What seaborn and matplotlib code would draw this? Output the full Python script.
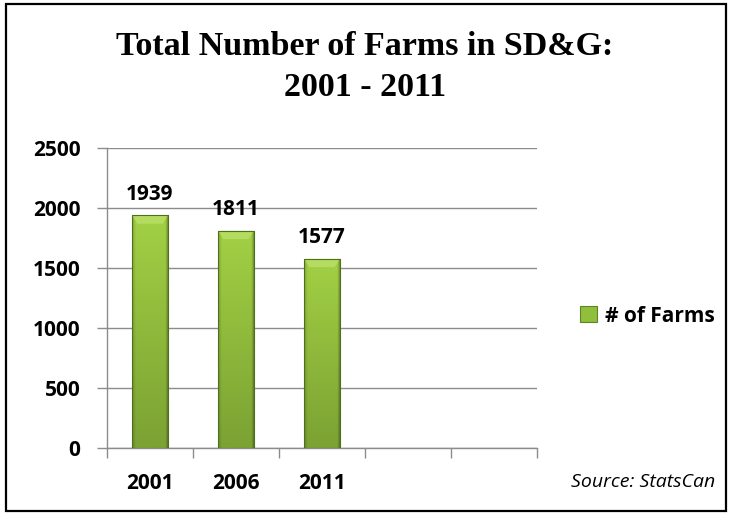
import numpy as np
import pandas as pd
import matplotlib
matplotlib.use("Agg")
import matplotlib.pyplot as plt
import seaborn as sns
from matplotlib.patches import Rectangle, Patch, Polygon
from matplotlib.colors import to_rgb

# Census counts of farms
years = ["2001", "2006", "2011"]
farms = [1939, 1811, 1577]
yticks = [0, 500, 1000, 1500, 2000, 2500]
series_name = "# of Farms"
source_note = "Source: StatsCan"
title_text = "Total Number of Farms in SD&G:\n2001 - 2011"

df = pd.DataFrame({"year": years, "farms": farms})

sns.set_theme(style="white")
plt.rcParams["font.family"] = ["Open Sans", "DejaVu Sans"]
plt.rcParams["text.color"] = "black"
plt.rcParams["xtick.labelcolor"] = "black"
plt.rcParams["ytick.labelcolor"] = "black"

W, H = 730, 514
fig = plt.figure(figsize=(W / 100, H / 100), dpi=100)
ax = fig.add_axes([107 / W, 1 - 448 / H, (537 - 107) / W, (448 - 148) / H])

grid_col = "#8c8c8c"
bar_base = "#8fbf3c"
sns.barplot(data=df, x="year", y="farms", order=years, color=bar_base,
            width=0.42, saturation=1, edgecolor="none", ax=ax, zorder=3)

# shaded fill for each bar: bright top fading to olive base, darker rims
top_c = np.array(to_rgb("#a2d044"))
bot_c = np.array(to_rgb("#7ba233"))
nx, ny = 80, 200
u = np.linspace(0, 1, nx)
v = np.linspace(0, 1, ny)[:, None]
rows = bot_c[None, :] * (1 - v) + top_c[None, :] * v          # (ny, 3)
rim = np.ones(nx)
rim -= 0.18 * np.clip(1 - u / 0.10, 0, 1)
rim -= 0.40 * np.clip(1 - (1 - u) / 0.09, 0, 1)
for p in list(ax.patches):
    x0, y0 = p.get_x(), p.get_y()
    w, h = p.get_width(), p.get_height()
    img = rows[:, None, :] * rim[None, :, None]
    im = ax.imshow(np.clip(img, 0, 1), extent=[x0, x0 + w, y0, y0 + h],
                   origin="lower", aspect="auto", zorder=4, interpolation="bilinear")
    im.set_clip_path(p)
    # bevelled cap
    cap = 70
    ax.add_patch(Polygon([(x0, y0 + h), (x0 + w, y0 + h),
                          (x0 + w * 0.85, y0 + h - cap), (x0 + w * 0.15, y0 + h - cap)],
                         closed=True, facecolor="#c4e87a", edgecolor="none",
                         alpha=0.55, zorder=5))
    ax.add_patch(Rectangle((x0, y0), w, h, fill=False, edgecolor="#506f1e",
                           lw=0.8, zorder=7))
    p.set_alpha(0)

for i, val in enumerate(farms):
    ax.text(i, val + 90, f"{val}", ha="center", va="bottom", fontsize=15,
            fontweight="bold", color="black", zorder=8)

ax.set_xlim(-0.5, 4.5)
ax.set_ylim(0, 2500)
ax.set_yticks(yticks)
ax.set_yticklabels([str(t) for t in yticks])
ax.set_xticks(range(len(years)))
ax.set_xticklabels(years)
ax.set_xticks(np.arange(-0.5, 5, 1.0), minor=True)
ax.set_xlabel("")
ax.set_ylabel("")

ax.yaxis.grid(True, color=grid_col, lw=1, zorder=0)
ax.xaxis.grid(False)
for s in ["top", "right"]:
    ax.spines[s].set_visible(False)
for s in ["left", "bottom"]:
    ax.spines[s].set_color(grid_col)
    ax.spines[s].set_linewidth(1)

ax.tick_params(axis="y", which="major", length=7, width=1, color=grid_col,
               pad=12, labelsize=15, left=True)
ax.tick_params(axis="x", which="major", length=0, pad=18, labelsize=15, bottom=True)
ax.tick_params(axis="x", which="minor", length=7, width=1, color=grid_col,
               bottom=True, direction="out")
for lab in ax.get_xticklabels() + ax.get_yticklabels():
    lab.set_fontweight("bold")
    lab.set_color("black")

handle = Patch(facecolor=bar_base, edgecolor="#5f8424", lw=0.8)
fig.legend([handle], [series_name], loc="center left",
           bbox_to_anchor=(572 / W, 1 - 316 / H), frameon=False,
           prop={"weight": "bold", "size": 15}, handlelength=0.8, handleheight=0.8,
           handletextpad=0.4, borderaxespad=0)

fig.text(715 / W, 1 - 482 / H, source_note, ha="right", va="center",
         fontsize=14, style="italic", color="black")

fig.text(0.5, 1 - 67 / H, title_text, ha="center", va="center",
         fontsize=24.5, fontweight="bold", family=["Liberation Serif"],
         linespacing=1.42, color="black")

fig.add_artist(Rectangle((6 / W, 3 / H), (726 - 6) / W, (510 - 3) / H,
                         transform=fig.transFigure, fill=False,
                         edgecolor="black", lw=1.6))

fig.savefig("out.png", dpi=100)
